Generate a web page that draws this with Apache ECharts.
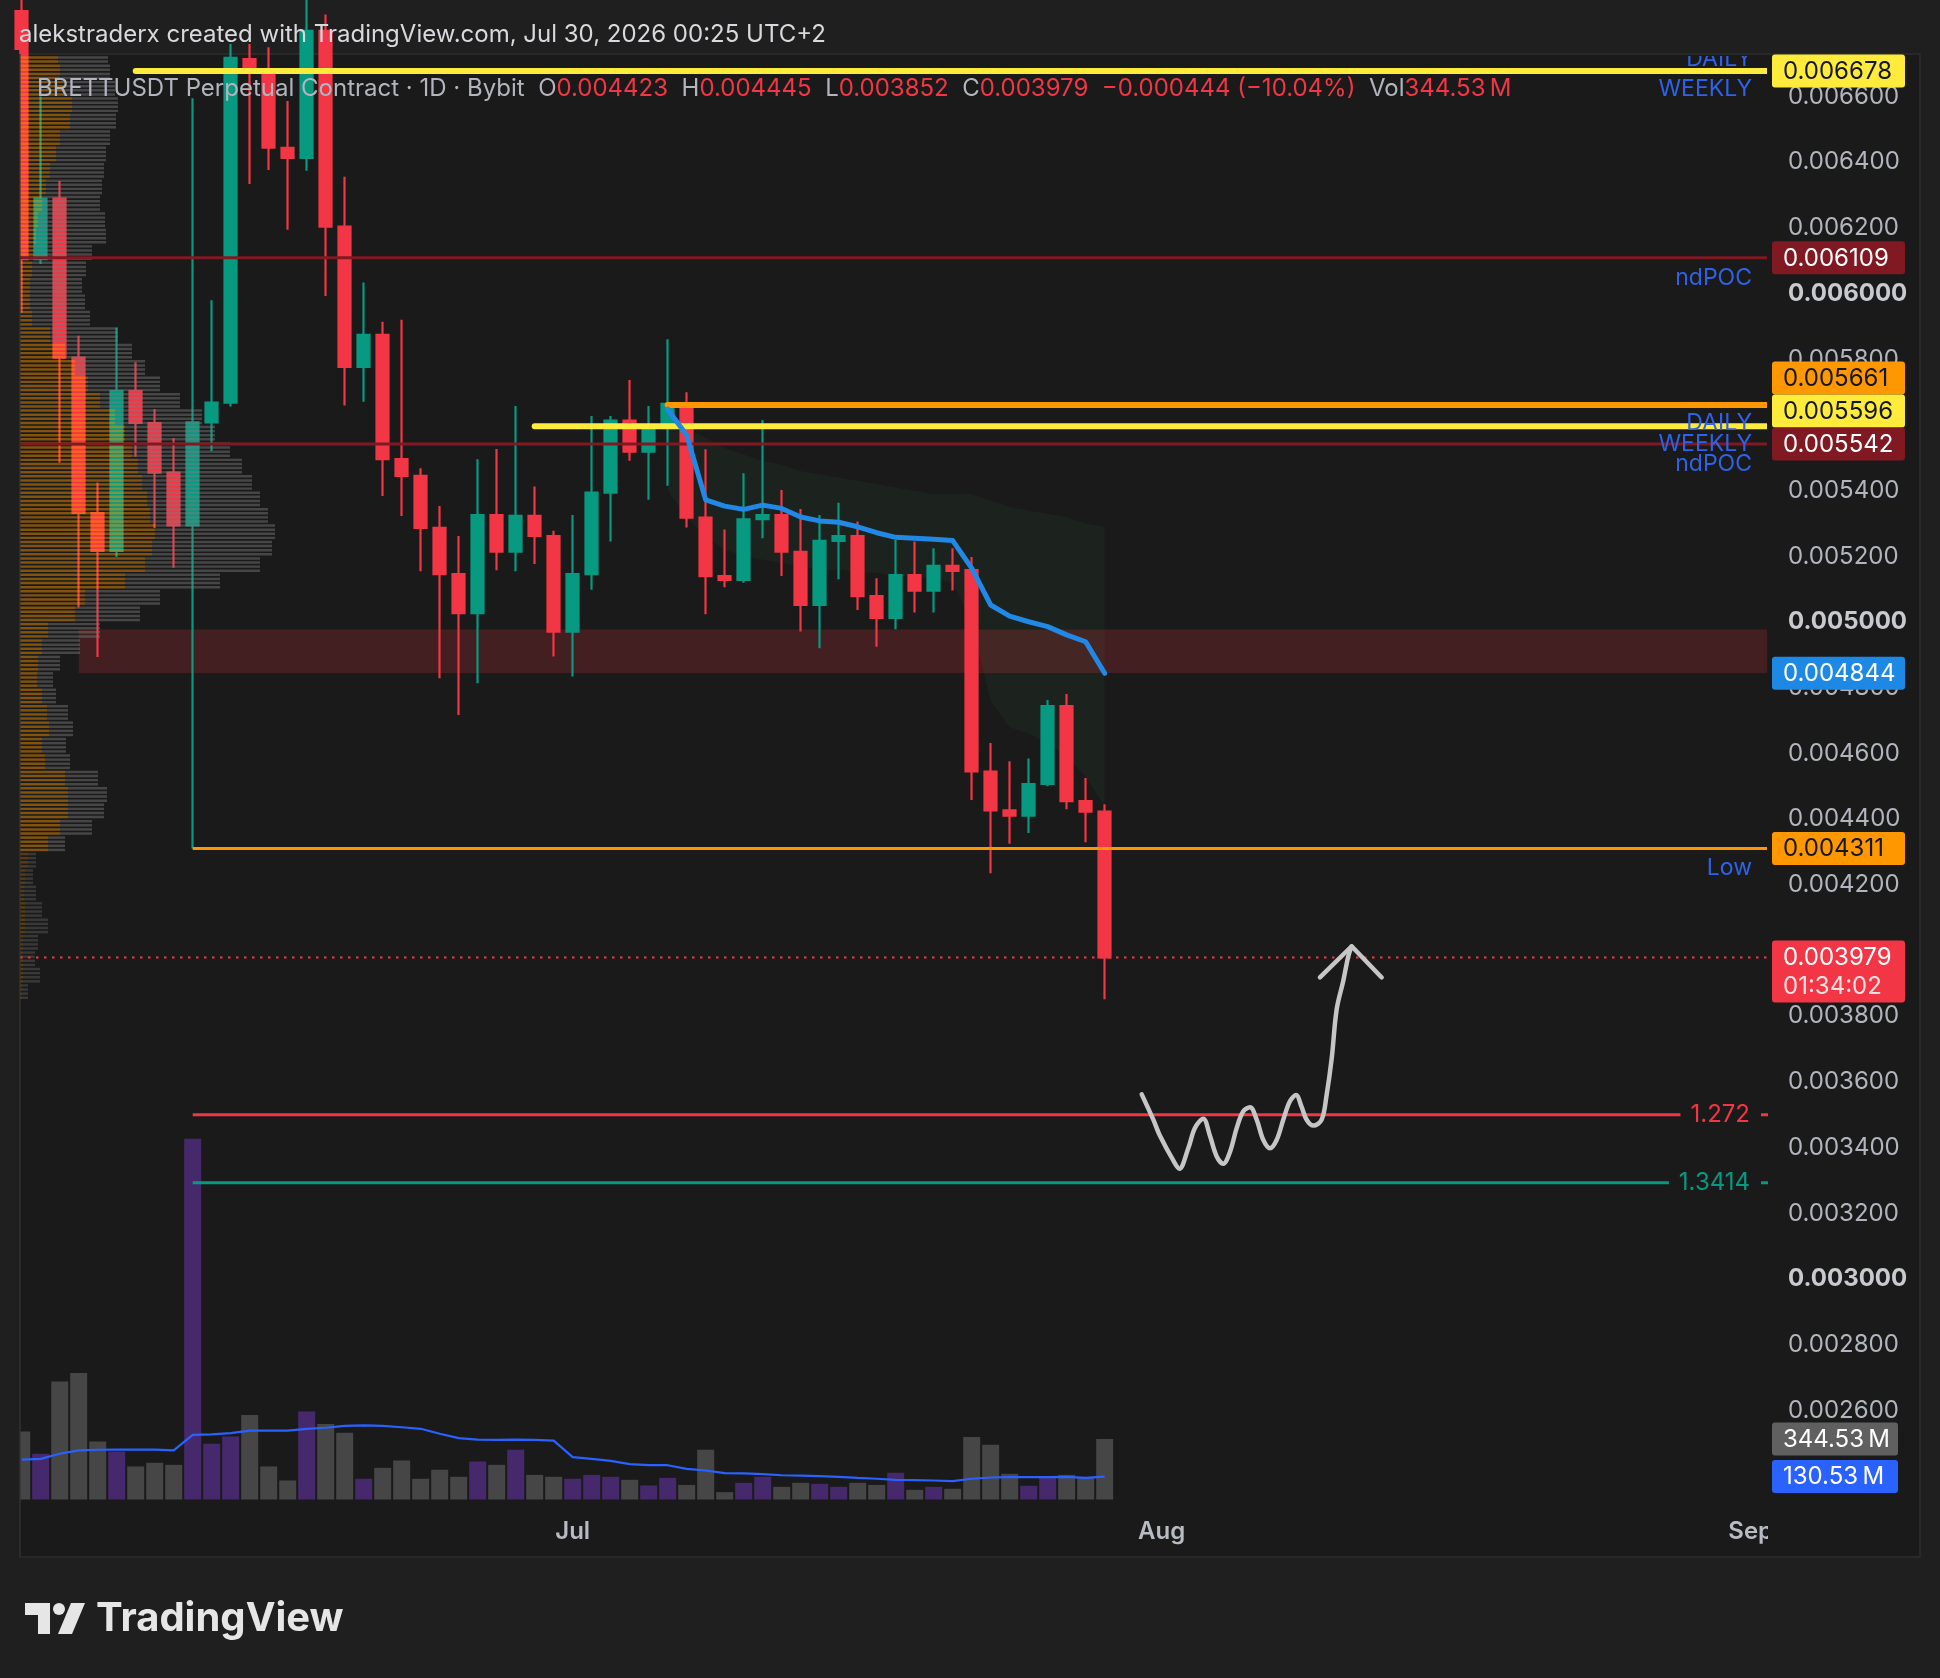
<!DOCTYPE html>
<html>
<head>
<meta charset="utf-8">
<title>BRETTUSDT 1D</title>
<script src="https://cdn.jsdelivr.net/npm/echarts@6.0.0/dist/echarts.min.js"></script>
<style>
html,body{margin:0;padding:0;background:#1f1f1f;}
#chart{width:1940px;height:1678px;}
</style>
</head>
<body>
<div id="chart"></div>
<script>
const FONT = "Inter, 'Noto Sans', sans-serif";

// ---------------- DATA ----------------
// day index 0 = Jun 2, 2026 ... 57 = Jul 29, 2026
const candleOpen = [0.00686,0.006105,0.006289,0.005805,0.005332,0.005217,0.005703,0.005606,0.005455,0.005294,
  0.005608,0.005668,0.006714,0.006683,0.006444,0.006413,0.00680,0.006204,0.005777,0.005874,
  0.005496,0.005445,0.005287,0.005146,0.005027,0.005326,0.005214,0.005323,0.005262,0.004971,
  0.005146,0.005394,0.005613,0.005519,0.0056,0.005664,0.005318,0.00514,0.005128,0.005313,
  0.005326,0.005214,0.005052,0.005247,0.005262,0.005079,0.005013,0.005143,0.005096,0.005171,
  0.005158,0.004545,0.004427,0.004411,0.004507,0.004744,0.004455,0.004423];
const candleClose = [0.006105,0.006289,0.005805,0.005332,0.005217,0.005703,0.005606,0.005455,0.005294,0.005608,
  0.005668,0.006718,0.006681,0.006444,0.006413,0.00680,0.006204,0.005777,0.005874,0.005496,
  0.005445,0.005287,0.005146,0.005027,0.005326,0.005214,0.005323,0.005262,0.004971,0.005146,
  0.005394,0.005613,0.005519,0.0056,0.005664,0.005318,0.00514,0.005128,0.005313,0.005326,
  0.005214,0.005052,0.005247,0.005262,0.005079,0.005013,0.005143,0.005096,0.005171,0.005156,
  0.004545,0.004427,0.004411,0.004507,0.004744,0.004455,0.004423,0.003979];
const candleLow = [0.005942,0.00609,0.005485,0.005044,0.004894,0.005198,0.005503,0.005286,0.005165,0.004311,
  0.005521,0.005656,0.006334,0.006376,0.006194,0.006374,0.005993,0.005659,0.005671,0.005384,
  0.005323,0.005155,0.004829,0.004717,0.004814,0.005158,0.005155,0.005177,0.004895,0.004834,
  0.005098,0.005245,0.005491,0.005372,0.005415,0.005288,0.005024,0.005106,0.00512,0.005255,
  0.00514,0.004971,0.00492,0.00513,0.005037,0.004925,0.004978,0.005029,0.005029,0.005096,
  0.004458,0.004235,0.004325,0.004358,0.0045,0.00443,0.00433,0.003852];
const candleHigh = [0.00695,0.0066,0.006343,0.005872,0.005425,0.005896,0.005791,0.005649,0.00556,0.006595,
  0.00598,0.00676,0.00676,0.00675,0.006586,0.0069,0.00685,0.006356,0.006034,0.005914,
  0.00592,0.005468,0.005353,0.005262,0.005496,0.005527,0.005658,0.005413,0.005278,0.005326,
  0.005627,0.005627,0.005737,0.005658,0.005861,0.0057,0.005526,0.005282,0.005453,0.005615,
  0.005402,0.005344,0.005326,0.005363,0.005306,0.005133,0.00525,0.005245,0.005225,0.005225,
  0.005198,0.004632,0.004576,0.004585,0.004763,0.004781,0.004525,0.004445];
// volume in millions
const volumes = [387,260,671,720,330,273,188,209,197,2051,
  317,358,481,188,108,500,430,379,118,180,
  222,118,169,129,216,197,283,140,129,118,
  140,129,112,80,123,83,283,42,95,129,
  72,95,89,72,95,83,152,55,72,61,
  356,311,146,78,123,140,123,344.53];
const volumeMA = [227,231,260,279,283,284,284,284,279,368,
  370,377,392,392,392,402,408,419,421,419,
  411,402,374,349,341,339,341,339,335,241,
  231,220,201,195,195,174,165,150,148,144,
  138,136,133,129,123,118,112,110,108,104,
  118,125,127,127,127,129,123,130.53];
const priceMAStart = 34;
const priceMA = [0.005648,0.005569,0.005372,0.005353,0.005343,0.005356,0.005346,0.00532,0.005308,0.005304,
  0.00529,0.005272,0.005258,0.005255,0.005252,0.005248,0.005164,0.005052,0.005018,0.005001,
  0.004986,0.004961,0.00494,0.004844];
const bandStart = 34;
const bandUpper = [0.00562,0.00559,0.00556,0.00553,0.00551,0.00549,0.00548,0.00546,0.00545,0.00544,
  0.00543,0.00542,0.00541,0.0054,0.00539,0.00539,0.00539,0.00537,0.00535,0.00534,
  0.00533,0.00532,0.0053,0.00529];
const bandLower = [0.0054,0.00532,0.00526,0.00522,0.0052,0.00519,0.00518,0.00517,0.00516,0.00516,
  0.00515,0.00515,0.00514,0.00514,0.00513,0.00512,0.005,0.00476,0.00468,0.00466,
  0.00463,0.00459,0.00453,0.00444];
// visible-range volume profile, rows from the bottom
const vpBase = 0.00385;
const vpStep = 0.00005;
const vpTotal = [8,20,15,18,28,22,16,13,16,45,72,84,87,78,50,46,53,48,36,33,
  40,60,80,120,140,200,240,252,255,248,240,232,222,210,195,182,160,140,125,112,
  98,70,65,62,66,72,86,85,80,82,84,86,90,96,98,95,90,88];
const vpUp = [2,3,3,3,5,5,4,5,8,28,40,48,48,45,25,22,29,27,22,17,
  18,22,28,55,65,105,125,132,135,130,127,122,118,112,105,95,80,68,55,45,
  30,12,10,10,12,14,16,18,22,26,30,36,40,50,52,45,40,38];
// horizontal levels
const levelPrices = [0.006678, 0.006109, 0.005661, 0.005596, 0.005542, 0.004311];
const levelStarts = [6, null, 34, 27, null, 9];
const zoneStart = 3, zoneHigh = 0.004977, zoneLow = 0.004845;
const fibStart = 9;
const fibPrices = [0.0035, 0.003293];
const fibLabels = ['1.272', '1.3414'];
const annoTexts = ['DAILY','WEEKLY','ndPOC','DAILY','WEEKLY','ndPOC','Low'];
const annoPrices = [0.006678,0.006678,0.006109,0.005596,0.005596,0.005542,0.004311];
// hand drawn path (day index, price)
const sketchX = [58.95,59.56,59.91,60.61,60.93,61.40,61.75,62.19,62.54,62.89,63.24,63.59,63.95,64.29,64.65,65.0,
  65.35,65.70,66.05,66.40,66.75,67.07,67.37,67.63,67.98,68.42,68.68,68.95,69.21,69.56,69.82,70.0];
const sketchP = [0.003562,0.003485,0.003436,0.003361,0.003336,0.003398,0.00346,0.003488,0.003436,0.003374,
  0.003351,0.003386,0.00346,0.00351,0.003523,0.003485,0.003423,0.003398,0.003423,0.003485,0.003541,0.00356,
  0.003523,0.003485,0.003467,0.003485,0.00356,0.003672,0.003821,0.003908,0.003982,0.004013];
const arrowX = [68.33, 70.0, 71.58];
const arrowP = [0.003918, 0.004013, 0.003918];
const yTicks = [0.0026,0.0028,0.003,0.0032,0.0034,0.0036,0.0038,0.004,0.0042,0.0044,0.0046,0.0048,
  0.005,0.0052,0.0054,0.0056,0.0058,0.006,0.0062,0.0064,0.0066];
const monthTicks = [29, 60, 91];
const monthLabels = ['Jul', 'Aug', 'Sep'];
const countdown = '01:34:02';

// ---------------- styles / layout ----------------
const UP = '#089981', DOWN = '#f23645';
const levelColors = ['#ffeb3b','#801922','#ff9800','#ffeb3b','#801922','#ff9800'];
const levelWidths = [6,3,6,6,3,3];
const levelCaps = ['round','butt','round','round','butt','butt'];
const annoOffsets = [-12, 18, 20, -3, 18, 20, 20];
const fibColors = ['#f23645', '#089981'];
const xMin = -0.09, xMax = 91.86;
const yMin = 0.0022907, yMax = 0.0067233;
const gridPrice = {left: 20, right: 173, top: 56, bottom: 166};
const gridVol = {left: 20, right: 173, top: 1130.2, bottom: 178.5};

const last = candleOpen.length - 1;
const lastClose = candleClose[last];
const measureCtx = document.createElement('canvas').getContext('2d');
function textW(t, f) { measureCtx.font = f; return measureCtx.measureText(t).width; }

const candleData = candleOpen.map((o, i) => [i, o, candleClose[i], candleLow[i], candleHigh[i]]);
const volData = volumes.map((v, i) => ({value: [i, v], itemStyle: {color: candleClose[i] >= candleOpen[i] ? '#46296c' : '#464646'}}));
const volMAData = volumeMA.map((v, i) => [i, v]);
const maData = priceMA.map((v, k) => [priceMAStart + k, v]);
const bandData = bandUpper.map((u, k) => [bandStart + k, u, bandLower[k]]);
const vpData = vpTotal.map((t, k) => [vpBase + k * vpStep, vpBase + (k + 1) * vpStep, t, vpUp[k]]);
const levelData = levelPrices.map((p, i) => [levelStarts[i] == null ? xMin : levelStarts[i], p]);
// tags: the six levels, then the MA value, then the last price
const tagPrices = levelPrices.concat([priceMA[priceMA.length - 1], lastClose]);
const tagBg = ['#ffeb3b','#801922','#ff9800','#ffeb3b','#801922','#ff9800','#1e88e5','#f23645'];
const tagFg = ['#131722','#ffffff','#131722','#131722','#ffffff','#131722','#ffffff','#ffffff'];
const tagSub = [null,null,null,null,null,null,null,countdown];

const chart = echarts.init(document.getElementById('chart'), null, {width: 1940, height: 1678});

const tagFont = '24px ' + FONT;
const TAG_H = 33;

const option = {
  animation: false,
  backgroundColor: '#1f1f1f',
  grid: [
    Object.assign({}, gridPrice),
    Object.assign({}, gridVol),
    Object.assign({}, gridPrice)
  ],
  xAxis: [
    {type: 'value', gridIndex: 0, min: xMin, max: xMax,
      axisLine: {show: false}, axisTick: {show: false}, splitLine: {show: false},
      axisLabel: {customValues: monthTicks, color: '#b8bbc2', fontSize: 24, fontWeight: 600, fontFamily: FONT, margin: 8,
        formatter: v => monthLabels[monthTicks.indexOf(Math.round(v))] || ''}},
    {type: 'value', gridIndex: 1, min: xMin, max: xMax, show: false},
    {type: 'value', gridIndex: 2, min: 0, max: 1747, show: false}
  ],
  yAxis: [
    {type: 'value', gridIndex: 0, position: 'right', min: yMin, max: yMax,
      axisLine: {show: false}, axisTick: {show: false}, splitLine: {show: false},
      axisLabel: {customValues: yTicks, color: '#b2b5be', fontSize: 24, fontFamily: FONT, margin: 21, align: 'left',
        formatter: v => {
          // a scale label sitting right under a price tag is hidden, as on the scale of the original
          if (tagPrices.some(p => Math.abs(p - v) < 0.00003)) return '';
          const s = v.toFixed(6);
          return Math.abs(v * 1000 - Math.round(v * 1000)) < 1e-7 ? '{b|' + s + '}' : s;
        },
        rich: {b: {fontWeight: 'bold', fontSize: 24, fontFamily: FONT, color: '#c8cad0'}}}},
    {type: 'value', gridIndex: 1, min: 0, max: 2100, show: false},
    {type: 'value', gridIndex: 2, min: yMin, max: yMax, show: false}
  ],
  graphic: [
    {type: 'rect', z: -5, shape: {x: 20, y: 54, width: 1900, height: 1503},
      style: {fill: '#1a1a1a', stroke: '#2e2e2e', lineWidth: 1.5}},
    {type: 'rect', z: 50, shape: {x: 0, y: 50, width: 19.3, height: 1510}, style: {fill: '#1f1f1f'}},
    {type: 'line', z: 51, shape: {x1: 19.8, y1: 54, x2: 19.8, y2: 1557}, style: {stroke: '#2e2e2e', lineWidth: 1.5}},
    {type: 'text', z: 100, x: 19, y: 35, style: {
      text: 'alekstraderx created with TradingView.com, Jul 30, 2026 00:25 UTC+2',
      fill: '#d8d9dd', font: '24px ' + FONT, verticalAlign: 'middle'}},
    {type: 'rect', z: 100, shape: {x: 1768, y: 1515, width: 150, height: 40}, style: {fill: '#1a1a1a'}},
    // TradingView logo
    {type: 'polygon', z: 100, shape: {points: [[25,1603],[50,1603],[50,1634],[38,1634],[38,1615],[25,1615]]}, style: {fill: '#e6e6e6'}},
    {type: 'circle', z: 100, shape: {cx: 59, cy: 1609, r: 6}, style: {fill: '#e6e6e6'}},
    {type: 'polygon', z: 100, shape: {points: [[71,1603],[85,1603],[72,1634],[58,1634]]}, style: {fill: '#e6e6e6'}},
    {type: 'text', z: 100, x: 96, y: 1619, style: {text: 'TradingView', fill: '#e6e6e6',
      font: 'bold 40px ' + FONT, verticalAlign: 'middle'}}
  ],
  series: [
    // supply zone
    {type: 'custom', name: 'zone', xAxisIndex: 0, yAxisIndex: 0, z: 1, clip: true,
      data: [[zoneStart, zoneHigh, zoneLow]],
      renderItem: (params, api) => {
        const cs = params.coordSys;
        const a = api.coord([api.value(0), api.value(1)]);
        const b = api.coord([api.value(0), api.value(2)]);
        return {type: 'rect', shape: {x: a[0], y: a[1], width: cs.x + cs.width - a[0], height: b[1] - a[1]},
          style: {fill: 'rgba(242,54,69,0.2)'}};
      }},
    // faint band
    {type: 'custom', name: 'band', xAxisIndex: 0, yAxisIndex: 0, z: 1, clip: true,
      data: bandData,
      renderItem: (params, api) => {
        if (params.dataIndex !== 0) return null;
        const pts = [];
        for (let k = 0; k < bandData.length; k++) pts.push(api.coord([bandData[k][0], bandData[k][1]]));
        for (let k = bandData.length - 1; k >= 0; k--) pts.push(api.coord([bandData[k][0], bandData[k][2]]));
        return {type: 'polygon', shape: {points: pts}, style: {fill: 'rgba(76,175,80,0.06)'}};
      }},
    // volume
    {type: 'bar', name: 'Volume', xAxisIndex: 1, yAxisIndex: 1, z: 2, barWidth: 17, clip: true, data: volData},
    {type: 'line', name: 'Volume MA', xAxisIndex: 1, yAxisIndex: 1, z: 2, data: volMAData, showSymbol: false,
      lineStyle: {color: '#2962ff', width: 2.2}},
    // candles
    {type: 'candlestick', name: 'BRETTUSDT', xAxisIndex: 0, yAxisIndex: 0, z: 3, clip: true, barWidth: 12,
      encode: {x: 0, y: [1, 2, 3, 4]},
      data: candleData,
      itemStyle: {color: UP, color0: DOWN, borderColor: UP, borderColor0: DOWN, borderWidth: 2.2}},
    // volume profile
    {type: 'custom', name: 'VPVR', xAxisIndex: 2, yAxisIndex: 2, z: 4, clip: true,
      data: vpData,
      renderItem: (params, api) => {
        const k = params.dataIndex;
        const pLo = api.value(0), pHi = api.value(1), tot = api.value(2), up = api.value(3);
        const yTop = api.coord([0, pHi])[1], yBot = api.coord([0, pLo])[1];
        const x0 = api.coord([0, pLo])[0], xUp = api.coord([up, pLo])[0], xTot = api.coord([tot, pLo])[0];
        const n = 4, per = (yBot - yTop) / n, h = per * 0.6;
        const dim = k <= 8;
        const orange = dim ? 'rgba(255,152,0,0.28)' : 'rgba(255,152,0,0.45)';
        const gray = dim ? 'rgba(125,125,125,0.3)' : 'rgba(125,125,125,0.45)';
        const ch = [];
        for (let s = 0; s < n; s++) {
          const y = yTop + s * per + (per - h) / 2;
          ch.push({type: 'rect', shape: {x: x0, y: y, width: xUp - x0, height: h}, style: {fill: orange}});
          ch.push({type: 'rect', shape: {x: xUp, y: y, width: xTot - xUp, height: h}, style: {fill: gray}});
        }
        return {type: 'group', children: ch};
      }},
    // horizontal levels
    {type: 'custom', name: 'levels', xAxisIndex: 0, yAxisIndex: 0, z: 5, clip: true,
      data: levelData,
      renderItem: (params, api) => {
        const cs = params.coordSys, i = params.dataIndex;
        const p = api.coord([api.value(0), api.value(1)]);
        const x1 = Math.max(p[0], cs.x);
        return {type: 'line', shape: {x1: x1, y1: p[1], x2: cs.x + cs.width + 4, y2: p[1]},
          style: {stroke: levelColors[i], lineWidth: levelWidths[i], lineCap: levelCaps[i]}};
      }},
    // current price dotted line
    {type: 'custom', name: 'last', xAxisIndex: 0, yAxisIndex: 0, z: 5, clip: true,
      data: [[xMin, lastClose]],
      renderItem: (params, api) => {
        const cs = params.coordSys;
        const p = api.coord([api.value(0), api.value(1)]);
        return {type: 'line', shape: {x1: cs.x, y1: p[1], x2: cs.x + cs.width, y2: p[1]},
          style: {stroke: '#f23645', lineWidth: 2, lineDash: [2.5, 5.5]}};
      }},
    // fib extension levels
    {type: 'custom', name: 'fib', xAxisIndex: 0, yAxisIndex: 0, z: 5, clip: false,
      data: fibPrices.map(p => [fibStart, p]),
      renderItem: (params, api) => {
        const cs = params.coordSys, i = params.dataIndex;
        const p = api.coord([api.value(0), api.value(1)]);
        const right = cs.x + cs.width;
        const f = '24px ' + FONT;
        const textRight = right - 17;
        const lineEnd = textRight - textW(fibLabels[i], f) - 10;
        return {type: 'group', children: [
          {type: 'line', shape: {x1: p[0], y1: p[1], x2: lineEnd, y2: p[1]}, style: {stroke: fibColors[i], lineWidth: 3}},
          {type: 'text', style: {text: fibLabels[i], x: textRight, y: p[1], align: 'right', verticalAlign: 'middle', font: f, fill: fibColors[i]}},
          {type: 'line', shape: {x1: right - 6, y1: p[1], x2: right + 1, y2: p[1]}, style: {stroke: fibColors[i], lineWidth: 3}}
        ]};
      }},
    // price MA
    {type: 'line', name: 'MA', xAxisIndex: 0, yAxisIndex: 0, z: 6, data: maData, showSymbol: false,
      lineStyle: {color: '#2188e6', width: 5, cap: 'round', join: 'round'}},
    // hand drawn projection
    {type: 'line', name: 'sketch', xAxisIndex: 0, yAxisIndex: 0, z: 6, showSymbol: false, smooth: 0.35,
      data: sketchX.map((x, k) => [x, sketchP[k]]),
      lineStyle: {color: '#c6c6c6', width: 4.5, cap: 'round', join: 'round'}},
    {type: 'line', name: 'arrow', xAxisIndex: 0, yAxisIndex: 0, z: 6, showSymbol: false,
      data: arrowX.map((x, k) => [x, arrowP[k]]),
      lineStyle: {color: '#c6c6c6', width: 4.5, cap: 'round', join: 'round'}},
    // right side level names
    {type: 'custom', name: 'names', xAxisIndex: 0, yAxisIndex: 0, z: 7, clip: true,
      data: annoPrices.map(p => [xMax, p]),
      renderItem: (params, api) => {
        const cs = params.coordSys, i = params.dataIndex;
        const p = api.coord([api.value(0), api.value(1)]);
        return {type: 'text', style: {text: annoTexts[i], x: cs.x + cs.width - 15, y: p[1] + annoOffsets[i],
          align: 'right', verticalAlign: 'middle', font: '23px ' + FONT, fill: '#2f62e8'}};
      }},
    // price tags on the scale
    {type: 'custom', name: 'tags', xAxisIndex: 0, yAxisIndex: 0, z: 10, clip: false,
      data: tagPrices.map(p => [xMax, p]),
      renderItem: (params, api) => {
        const cs = params.coordSys, i = params.dataIndex;
        const ys = tagPrices.map(p => api.coord([xMax, p])[1]);
        const hs = tagPrices.map((p, j) => tagSub[j] ? 62 : TAG_H);
        const order = ys.map((y, j) => j).sort((a, b) => ys[b] - ys[a]);
        const tops = [];
        let limit = Infinity;
        order.forEach(j => {
          let top = ys[j] - (tagSub[j] ? 17 : TAG_H / 2);
          if (top + hs[j] > limit) top = limit - hs[j];
          tops[j] = top; limit = top;
        });
        const x = cs.x + cs.width + 5;
        const top = tops[i];
        const ch = [
          {type: 'rect', shape: {x: x, y: top, width: 133, height: hs[i], r: 3}, style: {fill: tagBg[i]}},
          {type: 'text', style: {text: api.value(1).toFixed(6), x: x + 11, y: top + (tagSub[i] ? 17.5 : TAG_H / 2 + 0.5),
            verticalAlign: 'middle', font: tagFont, fill: tagFg[i]}}
        ];
        if (tagSub[i]) ch.push({type: 'text', style: {text: tagSub[i], x: x + 11, y: top + 46,
          verticalAlign: 'middle', font: tagFont, fill: 'rgba(255,255,255,0.85)'}});
        return {type: 'group', children: ch};
      }},
    // volume tags
    {type: 'custom', name: 'voltags', xAxisIndex: 1, yAxisIndex: 1, z: 10, clip: false,
      data: [[xMax, volumes[last]], [xMax, volumeMA[last]]],
      renderItem: (params, api) => {
        const cs = params.coordSys, i = params.dataIndex;
        const y = api.coord([api.value(0), api.value(1)])[1];
        const x = cs.x + cs.width + 5;
        return {type: 'group', children: [
          {type: 'rect', shape: {x: x, y: y - TAG_H / 2, width: 126, height: TAG_H, r: 3}, style: {fill: i === 0 ? '#606060' : '#2962ff'}},
          {type: 'text', style: {text: api.value(1).toFixed(2) + '\u2009M', x: x + 11, y: y + 0.5, verticalAlign: 'middle', font: tagFont, fill: '#ffffff'}}
        ]};
      }}
  ]
};

// header legend line built from the last candle
(function () {
  const o = candleOpen[last], h = candleHigh[last], l = candleLow[last], c = candleClose[last];
  const prev = candleClose[last - 1];
  const chg = c - prev, pct = chg / prev * 100;
  const txt = '{n|BRETTUSDT Perpetual Contract · 1D · Bybit  O}{r|' + o.toFixed(6) + '}{n|  H}{r|' + h.toFixed(6) +
    '}{n|  L}{r|' + l.toFixed(6) + '}{n|  C}{r|' + c.toFixed(6) + '}{r|  ' + (chg < 0 ? '\u2212' : '+') + Math.abs(chg).toFixed(6) +
    ' (' + (pct < 0 ? '\u2212' : '+') + Math.abs(pct).toFixed(2) + '%)}{n|  Vol}{r|' + volumes[last].toFixed(2) + '\u2009M}';
  option.graphic.push({type: 'text', z: 100, x: 37, y: 89, style: {text: txt, verticalAlign: 'middle',
    rich: {n: {fill: '#b2b5be', font: '24px ' + FONT}, r: {fill: '#f23645', font: '24px ' + FONT}}}});
})();

chart.setOption(option);
</script>
</body>
</html>
